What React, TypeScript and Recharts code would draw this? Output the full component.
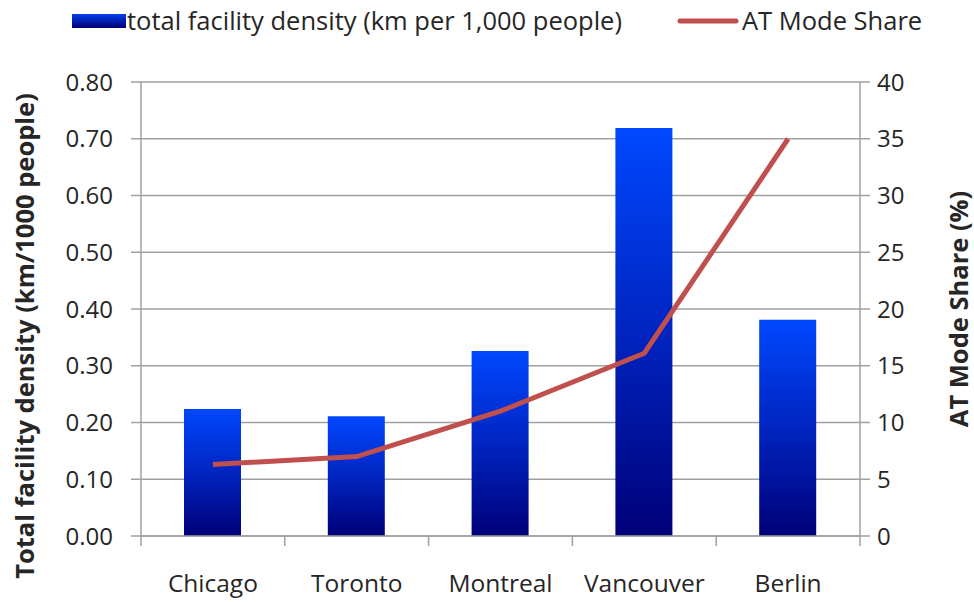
import React from 'react';
import { ComposedChart, Bar, Line, XAxis, YAxis, CartesianGrid, Legend } from 'recharts';

const cities = ['Chicago', 'Toronto', 'Montreal', 'Vancouver', 'Berlin'];
const facilityDensity = [0.224, 0.211, 0.326, 0.719, 0.381];
const atModeShare = [6.3, 7.0, 11.0, 16.1, 35.0];
const leftTicks = [0, 0.1, 0.2, 0.3, 0.4, 0.5, 0.6, 0.7, 0.8];
const rightTicks = [0, 5, 10, 15, 20, 25, 30, 35, 40];

const densityName = 'total facility density (km per 1,000 people)';
const shareName = 'AT Mode Share';
const leftTitle = 'Total facility density (km/1000 people)';
const rightTitle = 'AT Mode Share (%)';

const data = cities.map((city, i) => ({ city, density: facilityDensity[i], share: atModeShare[i] }));

const W = 974;
const H = 602;
const LEFT_W = 141;
const RIGHT_W = 114;
const LEGEND_H = 82;
const BOTTOM = 66;
const STEP = (W - LEFT_W - RIGHT_W) / cities.length;
const FONT = '"Open Sans", sans-serif';
const TEXT = '#262626';
const GRID = '#a0a0a0';

const CityTick = (props: any) => {
  const { x, y, payload, index } = props;
  const last = index === cities.length - 1;
  return (
    <g>
      <line x1={x - STEP / 2} y1={y} x2={x - STEP / 2} y2={y + 10} stroke={GRID} strokeWidth={1.5} />
      {last && <line x1={x + STEP / 2} y1={y} x2={x + STEP / 2} y2={y + 10} stroke={GRID} strokeWidth={1.5} />}
      <text x={x} y={y + 56} textAnchor="middle" fill={TEXT} fontSize={24.5} fontFamily={FONT}>
        {payload.value}
      </text>
    </g>
  );
};

const LegendContent = () => (
  <div style={{ position: 'relative', width: W, height: LEGEND_H, fontFamily: FONT, fontSize: 25.5, color: TEXT }}>
    <svg style={{ position: 'absolute', left: 72, top: 14 }} width={54} height={14}>
      <defs>
        <linearGradient id="legGrad" x1="0" y1="0" x2="0" y2="1">
          <stop offset="0%" stopColor="#0040e8" />
          <stop offset="100%" stopColor="#000078" />
        </linearGradient>
      </defs>
      <rect x={0} y={0} width={54} height={14} fill="url(#legGrad)" />
    </svg>
    <span style={{ position: 'absolute', left: 127, top: 2, lineHeight: '36px', whiteSpace: 'nowrap' }}>{densityName}</span>
    <svg style={{ position: 'absolute', left: 676, top: 16 }} width={64} height={10}>
      <line x1={4} y1={5} x2={60} y2={5} stroke="#C0504D" strokeWidth={5} strokeLinecap="round" />
    </svg>
    <span style={{ position: 'absolute', left: 742, top: 2, lineHeight: '36px', whiteSpace: 'nowrap' }}>{shareName}</span>
  </div>
);

const LeftTitle = (props: any) => {
  const vb = props.viewBox;
  const cx = vb.x + 24;
  const cy = vb.y + vb.height / 2 + 27;
  return (
    <text x={cx} y={cy} transform={`rotate(-90 ${cx} ${cy})`} textAnchor="middle" dominantBaseline="central"
      fill={TEXT} fontSize={25.5} fontWeight="bold" fontFamily={FONT}>{leftTitle}</text>
  );
};

const RightTitle = (props: any) => {
  const vb = props.viewBox;
  const cx = vb.x + 98;
  const cy = vb.y + vb.height / 2;
  return (
    <text x={cx} y={cy} transform={`rotate(-90 ${cx} ${cy})`} textAnchor="middle" dominantBaseline="central"
      fill={TEXT} fontSize={25.5} fontWeight="bold" fontFamily={FONT}>{rightTitle}</text>
  );
};

export default function App() {
  return (
    <div style={{ position: 'absolute', left: 0, top: 0, background: '#fff' }}>
      <ComposedChart width={W} height={H} data={data} margin={{ top: 0, right: 0, bottom: 0, left: 0 }}>
        <defs>
          <linearGradient id="barGrad" x1="0" y1="0" x2="0" y2="1">
            <stop offset="0%" stopColor="#0048ff" />
            <stop offset="50%" stopColor="#0024c0" />
            <stop offset="100%" stopColor="#000078" />
          </linearGradient>
        </defs>
        <Legend verticalAlign="top" align="left" content={<LegendContent />} wrapperStyle={{ top: 0, left: 0, width: W, height: LEGEND_H }} />
        <CartesianGrid horizontal vertical={false} stroke={GRID} strokeWidth={1.5} yAxisId="left" />
        <XAxis dataKey="city" height={BOTTOM} tickLine={false} tickSize={0} tickMargin={0} tick={<CityTick />}
          axisLine={{ stroke: GRID, strokeWidth: 1.5 }} interval={0} />
        <YAxis yAxisId="left" orientation="left" width={LEFT_W} domain={[0, 0.8]} ticks={leftTicks}
          tickFormatter={(v: number) => v.toFixed(2)} tickSize={10} tickMargin={18}
          tick={{ fill: TEXT, fontSize: 24, fontFamily: FONT }}
          axisLine={{ stroke: GRID, strokeWidth: 1.5 }} tickLine={{ stroke: GRID, strokeWidth: 1.5 }}
          label={<LeftTitle />} interval={0} />
        <YAxis yAxisId="right" orientation="right" width={RIGHT_W} domain={[0, 40]} ticks={rightTicks}
          tickSize={10} tickMargin={7} tick={{ fill: TEXT, fontSize: 24, fontFamily: FONT, textAnchor: 'start' }}
          axisLine={{ stroke: GRID, strokeWidth: 1.5 }} tickLine={{ stroke: GRID, strokeWidth: 1.5 }}
          label={<RightTitle />} interval={0} />
        <Bar yAxisId="left" dataKey="density" name={densityName} barSize={57} fill="url(#barGrad)" isAnimationActive={false} />
        <Line yAxisId="right" dataKey="share" name={shareName} type="linear" stroke="#C0504D" strokeWidth={5}
          dot={false} activeDot={false} isAnimationActive={false} />
      </ComposedChart>
    </div>
  );
}
